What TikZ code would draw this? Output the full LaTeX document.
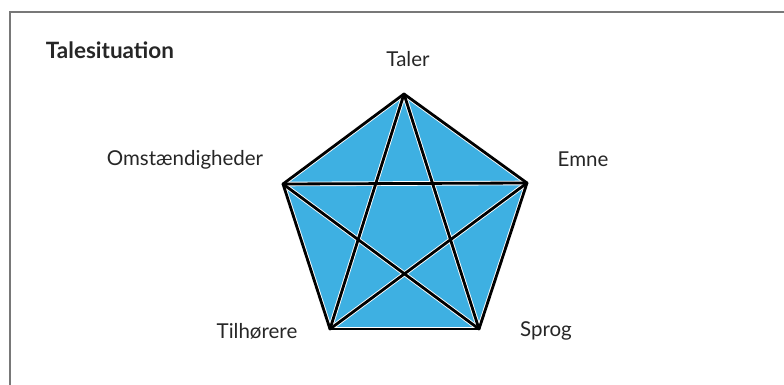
\documentclass[tikz,border=0pt]{standalone}
\usepackage{fontspec}
\setmainfont{Lato}
\usepackage{tikz}
\usetikzlibrary{positioning}
\definecolor{pentfill}{RGB}{62,176,226}
\definecolor{framegray}{RGB}{120,120,120}

\begin{document}
\begin{tikzpicture}[x=1pt,y=-1pt,
  lbl/.style={font=\fontsize{20.5}{24}\selectfont, text=black!85, inner sep=0pt},
  ttl/.style={font=\fontsize{22.5}{26}\selectfont\bfseries, text=black!85, inner sep=0pt},
  halo/.style={white, line width=4.6pt, line cap=round},
  edge/.style={black, line width=2.8pt, line cap=round, line join=round}
]
  \useasboundingbox (0,0) rectangle (784,385);
  % frame (open at right and bottom)
  \draw[framegray, line width=1.8pt] (10,385) -- (10,12) -- (784,12);
  % corners of the pentagon
  \coordinate (taler) at (404,94);
  \coordinate (emne) at (527,183);
  \coordinate (sprog) at (479,329);
  \coordinate (tilh) at (330,329);
  \coordinate (omst) at (283,184);
  \fill[pentfill] (taler) -- (emne) -- (sprog) -- (tilh) -- (omst) -- cycle;
  % white edges under the black lines
  \foreach \a/\b in {taler/emne,emne/sprog,sprog/tilh,tilh/omst,omst/taler,
                     taler/sprog,taler/tilh,emne/tilh,emne/omst,omst/sprog}
    \draw[halo] (\a) -- (\b);
  \foreach \a/\b in {taler/emne,emne/sprog,sprog/tilh,tilh/omst,omst/taler,
                     taler/sprog,taler/tilh,emne/tilh,emne/omst,omst/sprog}
    \draw[edge] (\a) -- (\b);
  % labels
  \node[ttl] (title) at (110,50) {Talesituation};
  \node[lbl] (lTaler) at (408,59) {Taler};
  \node[lbl] (lEmne) at (583,159) {Emne};
  \node[lbl] (lOmst) at (185,160) {Omstændigheder};
  \node[lbl] (lTilh) at (257,331) {Tilhørere};
  \node[lbl] (lSprog) at (546,331) {Sprog};
\end{tikzpicture}
\end{document}
